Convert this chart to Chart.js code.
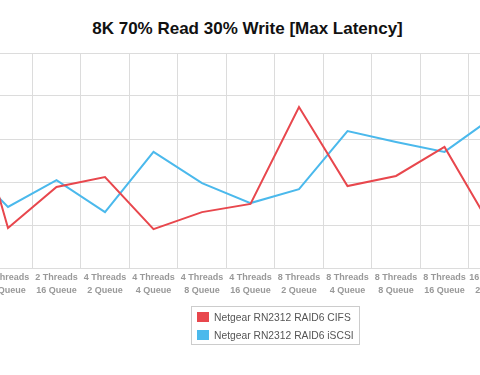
<!DOCTYPE html>
<html>
<head>
<meta charset="utf-8">
<script src="https://cdn.jsdelivr.net/npm/chart.js@4/dist/chart.umd.min.js"></script>
<style>
  html, body { margin: 0; padding: 0; background: #fff; }
  #page { position: relative; width: 480px; height: 375px; overflow: hidden; font-family: "Liberation Sans", Arial, sans-serif; }
  #title { position: absolute; left: 0; top: 19px; width: 495px; text-align: center; font-size: 17px; line-height: 20px; font-weight: bold; color: #111; }
  #latencyChart { position: absolute; left: -120px; top: 48px; }
  #legend { position: absolute; left: 191px; top: 306px; width: 167px; height: 37px; border: 1px solid #ccc; }
  .legend-row { position: absolute; left: 5px; height: 12px; font-size: 10.3px; line-height: 12px; color: #555; white-space: nowrap; }
  .legend-row span { display: inline-block; width: 12px; height: 10px; margin-right: 5px; vertical-align: top; }
</style>
</head>
<body>
<div id="page">
  <div id="title">8K 70% Read 30% Write [Max Latency]</div>
  <canvas id="latencyChart" width="680" height="260"></canvas>
  <div id="legend"></div>
</div>
<script>
const categories = [
  ['2 Threads', '4 Queue'], ['2 Threads', '8 Queue'], ['2 Threads', '16 Queue'],
  ['4 Threads', '2 Queue'], ['4 Threads', '4 Queue'], ['4 Threads', '8 Queue'],
  ['4 Threads', '16 Queue'], ['8 Threads', '2 Queue'], ['8 Threads', '4 Queue'],
  ['8 Threads', '8 Queue'], ['8 Threads', '16 Queue'], ['16 Threads', '2 Queue']
];
const cifsLatency = [97.7, 18.6, 37.7, 42.3, 18.1, 26.0, 29.8, 74.9, 38.1, 42.8, 56.3, 17.7];
const iscsiLatency = [51.2, 28.4, 40.9, 26.0, 54.0, 39.5, 30.2, 36.7, 63.7, 58.6, 54.0, 70.2];
const yTicks = [0, 20, 40, 60, 80, 100];

const seriesNames = ['Netgear RN2312 RAID6 CIFS', 'Netgear RN2312 RAID6 iSCSI'];
const seriesColors = ['#e8474d', '#4bb9ec'];

const ctx = document.getElementById('latencyChart');
const chart = new Chart(ctx, {
  type: 'line',
  data: {
    labels: categories,
    datasets: [cifsLatency, iscsiLatency].map((values, i) => ({
      label: seriesNames[i],
      data: values,
      borderColor: seriesColors[i],
      backgroundColor: seriesColors[i],
      borderWidth: 2,
      pointRadius: 0,
      tension: 0,
      fill: false
    }))
  },
  options: {
    responsive: false,
    animation: false,
    layout: { padding: { left: 55.25, right: 42.75, top: 5, bottom: 0 } },
    plugins: { legend: { display: false }, tooltip: { enabled: false } },
    scales: {
      x: {
        offset: true,
        grid: { offset: true, color: '#dcdcdc', drawTicks: false },
        border: { display: false },
        ticks: {
          autoSkip: false,
          maxRotation: 0,
          padding: 3,
          color: '#999',
          font: { family: '"Liberation Sans", Arial, sans-serif', size: 9, weight: 'bold', lineHeight: 13 / 9 }
        },
        afterFit: (scale) => { scale.height = 40; }
      },
      y: {
        min: yTicks[0],
        max: yTicks[yTicks.length - 1],
        afterBuildTicks: (scale) => { scale.ticks = yTicks.map((v) => ({ value: v })); },
        grid: { color: '#dcdcdc', drawTicks: false },
        border: { display: false },
        ticks: { display: false },
        afterFit: (scale) => { scale.width = 0; }
      }
    }
  }
});

const legendEl = document.getElementById('legend');
chart.data.datasets.forEach((ds, i) => {
  const row = document.createElement('div');
  row.className = 'legend-row';
  row.style.top = (5 + i * 18) + 'px';
  row.innerHTML = '<span style="background:' + ds.backgroundColor + '"></span>' + ds.label;
  legendEl.appendChild(row);
});
</script>
</body>
</html>
